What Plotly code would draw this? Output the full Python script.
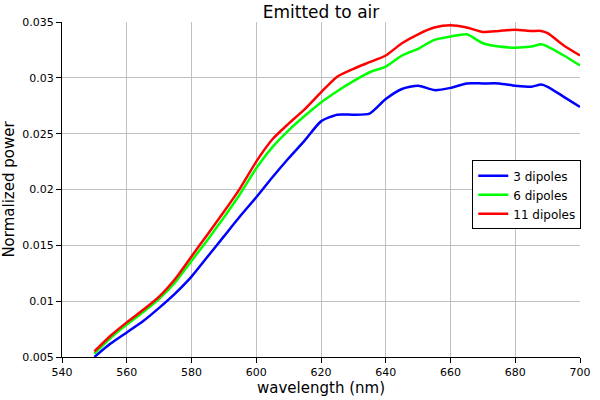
import plotly.graph_objects as go

wavelength = [550, 555, 560, 565, 570, 575, 580, 585, 590, 595, 600, 605, 610, 615, 620,
              625, 630, 635, 640, 645, 650, 655, 660, 665, 670, 675, 680, 685, 688, 690, 695, 700]

dip3 = [0.0050, 0.0062, 0.0072, 0.0082, 0.0094, 0.0107, 0.0122, 0.0140, 0.0158, 0.0176, 0.0193,
        0.0211, 0.0228, 0.0244, 0.0261, 0.0267, 0.0267, 0.0268, 0.0281, 0.0290, 0.0293, 0.0289,
        0.0291, 0.0295, 0.0295, 0.0295, 0.0293, 0.0292, 0.0294, 0.0292, 0.0283, 0.0274]

dip6 = [0.0053, 0.0067, 0.0079, 0.0090, 0.0102, 0.0117, 0.0136, 0.0155, 0.0175, 0.0196, 0.0219,
        0.0238, 0.0253, 0.0266, 0.0278, 0.0288, 0.0297, 0.0305, 0.0310, 0.0320, 0.0326, 0.0334,
        0.0337, 0.0339, 0.0331, 0.0328, 0.0327, 0.0328, 0.0330, 0.0328, 0.0320, 0.0311]

dip11 = [0.0055, 0.0069, 0.0081, 0.0092, 0.0104, 0.0120, 0.0140, 0.0160, 0.0180, 0.0201, 0.0225,
         0.0245, 0.0259, 0.0272, 0.0287, 0.0301, 0.0308, 0.0314, 0.0320, 0.0331, 0.0339, 0.0345,
         0.0347, 0.0345, 0.0341, 0.0342, 0.0343, 0.0342, 0.0342, 0.0340, 0.0329, 0.0320]

series = [("3 dipoles", dip3, "#0000ff"),
          ("6 dipoles", dip6, "#00ff00"),
          ("11 dipoles", dip11, "#ff0000")]

fig = go.Figure()
for name, vals, col in series:
    fig.add_trace(go.Scatter(x=wavelength, y=vals, mode="lines", name=name,
                             line=dict(color=col, width=2.5, shape="spline", smoothing=0.6)))

axis_common = dict(showline=True, linecolor="black", linewidth=1, ticks="outside",
                   ticklen=5, tickcolor="black", showgrid=True, gridcolor="#c0c0c0",
                   gridwidth=1, zeroline=False, mirror=False, automargin=False,
                   tickfont=dict(family="DejaVu Sans", size=11, color="black"))

fig.update_layout(
    width=600, height=400,
    margin=dict(l=62, r=20, t=22, b=43),
    paper_bgcolor="white", plot_bgcolor="white",
    title=dict(text="Emitted to air", x=0.535, xanchor="center", y=0.97, yanchor="middle",
               font=dict(family="DejaVu Sans", size=17, color="black")),
    font=dict(family="DejaVu Sans", color="black"),
    xaxis=dict(range=[540, 700], tick0=540, dtick=20,
               title=dict(text="wavelength (nm)", font=dict(size=15), standoff=4),
               **axis_common),
    yaxis=dict(range=[0.005, 0.035], tick0=0.005, dtick=0.005,
               title=dict(text="Normalized power", font=dict(size=15), standoff=6),
               **axis_common),
    legend=dict(x=0.792, y=0.587, xanchor="left", yanchor="top",
                bgcolor="white", bordercolor="black", borderwidth=1,
                font=dict(family="DejaVu Sans", size=12, color="black"),
                tracegroupgap=0, itemwidth=30),
    showlegend=True,
)

fig.write_html("out.html")
